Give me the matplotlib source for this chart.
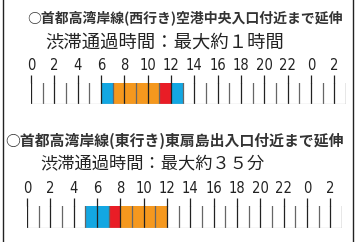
import matplotlib
matplotlib.use("Agg")
import matplotlib.pyplot as plt
from matplotlib.lines import Line2D

plt.rcParams['font.family'] = ['Noto Sans CJK JP', 'DejaVu Sans']

# ---- data ----
hours = list(range(27))                      # hourly cells, 0:00 .. 27:00
tick_positions = list(range(0, 27, 2))
tick_labels = ["0", "2", "4", "6", "8", "10", "12", "14", "16", "18", "20", "22", "0", "2"]

titles = ["○首都高湾岸線(西行き)空港中央入口付近まで延伸",
          "○首都高湾岸線(東行き)東扇島出入口付近まで延伸"]
subtitles = ["渋滞通過時間：最大約１時間",
             "渋滞通過時間：最大約３５分"]

# congestion level per hour: '' none, 'b' blue, 'o' orange, 'r' red
west_levels = {6: 'b', 7: 'o', 8: 'o', 9: 'o', 10: 'o', 11: 'r', 12: 'b'}
east_levels = {5: 'b', 6: 'b', 7: 'r', 8: 'o', 9: 'o', 10: 'o', 11: 'o'}

level_colors = {'b': '#13a7e2', 'o': '#f5981e', 'r': '#e91d26', '': 'white'}

W, H = 358, 242
fig = plt.figure(figsize=(W / 100, H / 100), dpi=100)
fig.patch.set_facecolor('white')

def px(x0, y0, x1, y1):
    return [x0 / W, 1 - y1 / H, (x1 - x0) / W, (y1 - y0) / H]

def strip(rect, levels):
    ax = fig.add_axes(rect)
    colors = [level_colors[levels.get(h, '')] for h in hours]
    ax.bar(hours, [1] * len(hours), width=1.0, align='edge', color=colors, linewidth=0)
    ax.set_xlim(0, len(hours))
    ax.set_ylim(0, 1)
    for h in hours[1:]:
        ax.axvline(h, color='#222222' if h % 2 == 0 else '#666666', lw=0.9)
    ax.axvline(0, color='#222222', lw=0.9)
    ax.axvline(len(hours), color='#444444', lw=0.9)
    ax.axhline(0, color='#bbbbbb', lw=0.9)
    for s in ax.spines.values():
        s.set_visible(False)
    ax.set_yticks([])
    ax.xaxis.tick_top()
    ax.set_xticks(tick_positions)
    ax.set_xticklabels(tick_labels, family=['DejaVu Sans'], stretch='condensed',
                       fontsize=10.5, color='#222222')
    ax.tick_params(axis='x', direction='out', length=6, width=0.9, color='#222222', pad=1)
    return ax

strip(px(31, 83, 346, 104), west_levels)
strip(px(27, 206, 342, 228), east_levels)

fig.text(27 / W, 1 - 18 / H, titles[0], fontsize=10.0, weight='bold', color='#333333',
         va='center', ha='left')
fig.text(45 / W, 1 - 43 / H, subtitles[0], fontsize=13.2, color='#222222',
         va='center', ha='left')
fig.text(5 / W, 1 - 141 / H, titles[1], fontsize=10.7, weight='bold', color='#333333',
         va='center', ha='left')
fig.text(40 / W, 1 - 164 / H, subtitles[1], fontsize=12.4, color='#222222',
         va='center', ha='left')

# outer frame lines
for x in (3, 353):
    fig.add_artist(Line2D([x / W, x / W], [0, 1], color='#222222', lw=1.0,
                          transform=fig.transFigure))

fig.savefig('out.png', dpi=100, facecolor='white')
